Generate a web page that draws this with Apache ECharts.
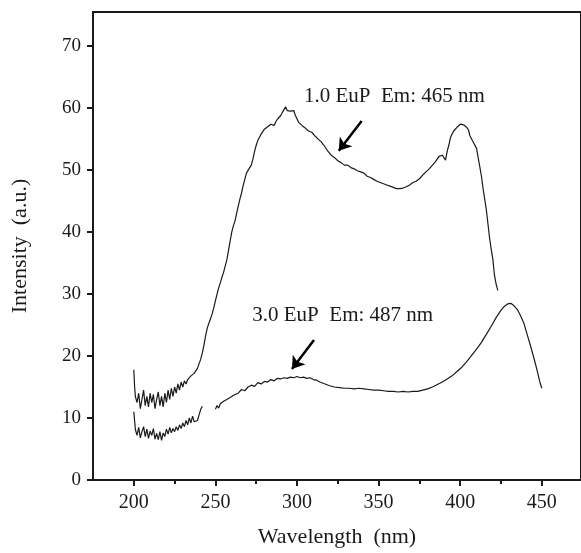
<!DOCTYPE html>
<html><head><meta charset="utf-8">
<script src="https://cdn.jsdelivr.net/npm/echarts@6/dist/echarts.min.js"></script>
<style>html,body{margin:0;padding:0;background:#fff}#c{width:581px;height:553px}</style>
</head><body><div id="c"></div>
<script>
// ---- tick labels ----
const xTicks = [200, 250, 300, 350, 400, 450];
const xMinorTicks = [225, 275, 325, 375, 425];
const yTicks = [0, 10, 20, 30, 40, 50, 60, 70];

// ---- series: 1.0 EuP (Em 465 nm) ----
const wl1 = [200,200.5,201,202,203,204,205,206,207,208,209,210,211,212,213,214,215,216,217,218,219,220,221,222,223,224,225,226,227,228,229,230,231,232,233,234,235,236,237,238,239,240,241,242,243,244,245,246,247,248,249,250,251,252,253,254,255,256,257,258,259,260,261,262,263,264,265,266,267,268,269,270,271,272,273,274,275,276,277,278,279,280,282,284,286,287,288,290,291,292,293,294,295,296,297,298,299,300,301,303,305,307,309,311,313,315,317,319,321,323,325,327,329,331,333,335,337,339,341,343,345,347,349,351,353,355,357,359,361,363,365,367,369,371,373,375,377,379,381,383,385,387,389,391,392,393,394,395,396,397,398,399,400,401,402,403,404,405,406,408,410,411,412,413,414,415,416,417,418,419,420,421,422,423,424];
const int1 = [17.8,15,13.4,12.5,14,11.5,13,14.5,12,13.5,11.8,14,12.5,13.8,11.5,13,14.2,12,13.5,11.8,14,12.5,14.5,13,14.8,13.5,15,14,15.5,14.5,15.8,15,16,15.5,16.2,16,16.8,16.5,17.2,17.5,18,18.3,19.5,20.5,21.8,23.3,24.5,25.3,26,26.8,27.8,28.9,30,31,31.8,32.7,33.5,34.5,35.5,37,38.5,40,41,41.8,43,44.2,45.3,46.3,47.5,48.5,49.5,49.8,50.4,50.8,51.8,53,54,54.8,55.3,55.8,56.2,56.6,57,57.4,57.2,57.8,58.2,58.8,59.3,59.6,60.2,59.6,59.8,59.5,59.3,59.6,58.8,58.6,57.7,57.2,56.8,56.3,56.1,55.5,55,54.5,53.8,53,52.4,52,51.5,51.2,50.8,50.8,50.4,50.2,49.9,49.7,49.5,49,48.8,48.5,48.2,48,47.8,47.6,47.4,47.2,47,47,47.1,47.3,47.6,48,48.2,48.6,49.2,49.7,50.2,50.8,51.4,52.2,52.4,51.6,53,54,55.2,55.8,56.3,56.6,56.9,57.2,57.4,57.2,57.3,57.1,56.9,56.5,55.5,54.5,53.5,52,50.5,49,47,45.3,43.6,41.3,39,37.2,35.6,33,31.6,30.6];

// ---- series: 3.0 EuP (Em 487 nm) ----
const wl2 = [200,200.5,201,202,203,204,205,206,207,208,209,210,211,212,213,214,215,216,217,218,219,220,221,222,223,224,225,226,227,228,229,230,231,232,233,234,235,236,237,238,239,240,241,242,246,250,251,252,253,254,255,256,257,258,259,260,262,264,266,268,270,272,274,276,278,280,282,284,286,288,290,292,294,296,298,300,302,304,306,308,310,312,314,316,318,320,323,326,329,332,335,338,341,344,347,350,353,356,359,362,365,368,371,374,377,380,383,386,389,392,395,398,401,404,407,410,413,416,419,422,425,427,429,430,431,433,435,437,439,441,443,445,447,449,450];
const int2 = [11,9.5,8.1,7.2,8.5,6.8,7.8,8.6,7,8.2,6.7,7.9,7.2,8.3,6.6,7.5,6.5,7.8,6.4,7.6,7,8.2,7.4,8.5,7.6,8.3,7.8,8.6,8,8.9,8.3,9.2,8.6,9.6,8.9,10,9.2,10.3,9.4,9.1,9.6,10.5,11.4,11.9,'-',11.4,12,11.6,12.3,12,12.7,12.4,13,12.7,13.3,13.2,13.8,14,14.6,14.4,15,15.3,15.1,15.7,15.5,15.9,15.8,16.2,16,16.4,16.3,16.5,16.4,16.6,16.5,16.7,16.5,16.6,16.4,16.5,16.2,16.1,15.8,15.6,15.4,15.2,15,14.9,14.8,14.8,14.7,14.8,14.7,14.6,14.5,14.5,14.4,14.3,14.3,14.2,14.3,14.2,14.3,14.3,14.5,14.7,15,15.4,15.8,16.3,16.8,17.5,18.2,19.1,20.1,21.1,22.2,23.5,24.8,26.2,27.4,28,28.4,28.6,28.5,28.1,27.5,26.5,25.3,23.5,21.7,19.8,17.8,15.6,14.8];

// ---- annotations (data coordinates) ----
const labelTexts = ['1.0 EuP  Em: 465 nm', '3.0 EuP  Em: 487 nm'];
const labelAnchors = [[304.3, 61.8], [272.6, 26.6]];
const arrowTails = [[339.6, 57.9], [310.4, 22.6]];
const arrowHeads = [[325.6, 53.1], [296.9, 17.9]];

const FONT = '"Liberation Serif", "Times New Roman", serif';
const INK = '#1a1a1a';
const pair = (xs, ys) => xs.map((x, i) => [x, ys[i]]);

const chart = echarts.init(document.getElementById('c'), null, {renderer: 'canvas'});
const option = {
  animation: false,
  backgroundColor: '#fff',
  grid: {left: 93, right: -2, top: 12, bottom: 69, show: true, borderColor: INK, borderWidth: 2, backgroundColor: 'transparent'},
  xAxis: [{
    type: 'value', min: 175, max: 474, position: 'bottom',
    name: 'Wavelength  (nm)', nameLocation: 'middle', nameGap: 46,
    nameTextStyle: {fontFamily: FONT, fontSize: 22, color: INK},
    axisLine: {show: true, lineStyle: {color: INK, width: 2}},
    axisTick: {show: true, inside: false, length: 6, customValues: xTicks, lineStyle: {color: INK, width: 2}},
    axisLabel: {show: true, customValues: xTicks, margin: 13, fontFamily: FONT, fontSize: 20, color: INK},
    splitLine: {show: false}
  }, {
    type: 'value', min: 175, max: 474, position: 'bottom', gridIndex: 0,
    axisLine: {show: false},
    axisTick: {show: true, inside: false, length: 4, customValues: xMinorTicks, lineStyle: {color: INK, width: 2}},
    axisLabel: {show: false},
    splitLine: {show: false}
  }],
  yAxis: {
    type: 'value', min: 0, max: 75.5,
    name: 'Intensity  (a.u.)', nameLocation: 'middle', nameGap: 62,
    nameTextStyle: {fontFamily: FONT, fontSize: 22, color: INK},
    axisLine: {show: true, lineStyle: {color: INK, width: 2}},
    axisTick: {show: true, inside: false, length: 6, customValues: yTicks, lineStyle: {color: INK, width: 2}},
    axisLabel: {show: true, customValues: yTicks, margin: 12, fontFamily: FONT, fontSize: 19, color: INK},
    splitLine: {show: false}
  },
  series: [{
    type: 'line', name: '1.0 EuP', data: pair(wl1, int1), showSymbol: false, symbol: 'none',
    lineStyle: {color: INK, width: 1.2}, connectNulls: false,
    markLine: {
      silent: true, symbol: ['none', 'arrow'], symbolSize: 12, animation: false,
      lineStyle: {color: '#000', width: 2.5, type: 'solid'}, label: {show: false},
      data: [[{coord: arrowTails[0]}, {coord: arrowHeads[0]}]]
    }
  }, {
    type: 'line', name: '3.0 EuP', data: pair(wl2, int2), showSymbol: false, symbol: 'none',
    lineStyle: {color: INK, width: 1.2}, connectNulls: false,
    markLine: {
      silent: true, symbol: ['none', 'arrow'], symbolSize: 12, animation: false,
      lineStyle: {color: '#000', width: 2.5, type: 'solid'}, label: {show: false},
      data: [[{coord: arrowTails[1]}, {coord: arrowHeads[1]}]]
    }
  }]
};
chart.setOption(option);
const graphics = labelTexts.map((t, i) => {
  const p = chart.convertToPixel({xAxisIndex: 0, yAxisIndex: 0}, labelAnchors[i]);
  return {type: 'text', x: p[0], y: p[1], style: {text: t, fontFamily: FONT, fontSize: 21, fill: INK, verticalAlign: 'middle', align: 'left'}};
});
chart.setOption({graphic: graphics});
</script></body></html>
